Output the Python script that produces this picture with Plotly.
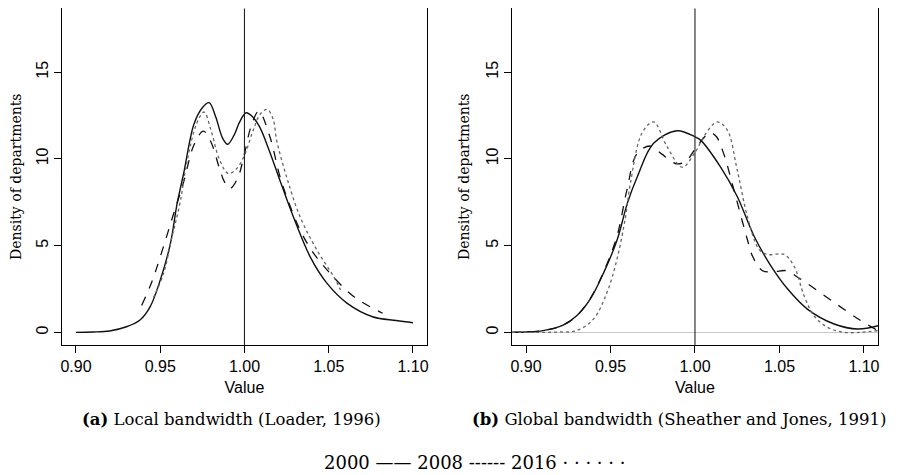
import plotly.graph_objects as go

# (a) local bandwidth (Loader, 1996)
local_2000_x = [0.900, 0.910, 0.920, 0.930, 0.938, 0.944, 0.950, 0.956, 0.960, 0.964, 0.970, 0.975,
                0.979, 0.983, 0.987, 0.990, 0.994, 0.997, 1.001, 1.005, 1.009, 1.015, 1.021, 1.029,
                1.039, 1.049, 1.061, 1.076, 1.090, 1.100]
local_2000_y = [0.0, 0.02, 0.08, 0.32, 0.71, 1.47, 3.0, 5.1, 7.4, 9.2, 12.0, 12.95,
                13.24, 12.4, 11.2, 10.84, 11.4, 12.1, 12.66, 12.4, 11.84, 10.4, 8.77, 6.66,
                4.35, 2.82, 1.67, 0.9, 0.68, 0.55]

local_2008_x = [0.939, 0.945, 0.950, 0.958, 0.964, 0.970, 0.9756, 0.980, 0.985, 0.988, 0.9914,
                0.996, 1.000, 1.004, 1.0085, 1.015, 1.021, 1.027, 1.033, 1.040, 1.049, 1.065, 1.082]
local_2008_y = [1.55, 2.9, 4.35, 6.85, 8.7, 10.8, 11.6, 11.0, 9.5, 8.7, 8.29,
                8.9, 10.3, 11.9, 12.75, 11.3, 9.0, 7.3, 5.9, 4.7, 3.6, 2.05, 1.1]

local_2016_x = [0.946, 0.952, 0.957, 0.9617, 0.9657, 0.9716, 0.976, 0.980, 0.985, 0.9904, 0.995,
                1.000, 1.005, 1.0095, 1.0135, 1.017, 1.0191, 1.025, 1.033, 1.043, 1.053, 1.057]
local_2016_y = [2.0, 3.4, 5.5, 7.43, 9.73, 12.03, 12.7, 11.7, 10.0, 9.15, 9.4,
                10.2, 11.6, 12.6, 12.85, 12.3, 11.07, 8.96, 6.66, 4.74, 3.2, 2.44]

# (b) global bandwidth (Sheather and Jones, 1991)
global_2000_x = [0.8917, 0.900, 0.910, 0.922, 0.930, 0.938, 0.946, 0.954, 0.960, 0.966, 0.9755,
                 0.9894, 1.000, 1.0033, 1.015, 1.025, 1.035, 1.045, 1.055, 1.0665, 1.0824, 1.0963, 1.1083]
global_2000_y = [0.0, 0.02, 0.1, 0.42, 0.95, 1.91, 3.44, 5.35, 7.45, 9.0, 10.9,
                 11.62, 11.27, 11.08, 9.55, 7.83, 5.54, 3.82, 2.48, 1.34, 0.48, 0.19, 0.38]

global_2008_x = [0.8917, 0.910, 0.922, 0.930, 0.938, 0.946, 0.954, 0.9597, 0.9657, 0.9736, 0.980,
                 0.9894, 0.995, 1.0003, 1.0088, 1.0125, 1.017, 1.023, 1.031, 1.034, 1.040, 1.047,
                 1.054, 1.062, 1.0824, 1.0982, 1.1083]
global_2008_y = [0.0, 0.1, 0.42, 0.95, 1.95, 3.5, 5.6, 8.2, 10.3, 10.74, 10.3,
                 9.71, 9.9, 10.6, 11.5, 11.3, 10.3, 8.22, 5.35, 4.4, 3.55, 3.5,
                 3.55, 3.1, 1.72, 0.67, 0.1]

global_2016_x = [0.8917, 0.910, 0.920, 0.930, 0.9399, 0.9479, 0.9538, 0.9588, 0.9618, 0.9687,
                 0.9755, 0.9835, 0.9924, 1.0003, 1.006, 1.0132, 1.0191, 1.025, 1.031, 1.0379,
                 1.0428, 1.0527, 1.0586, 1.0646, 1.0705, 1.0784, 1.0883, 1.098, 1.1083]
global_2016_y = [0.0, 0.0, 0.02, 0.1, 0.76, 2.29, 4.2, 6.6, 8.6, 11.5,
                 12.13, 10.7, 9.52, 10.41, 11.4, 12.13, 11.66, 9.36, 6.69, 4.78,
                 4.49, 4.49, 3.82, 2.1, 0.95, 0.29, 0.0, 0.0, 0.1]

x_ticks = [0.90, 0.95, 1.00, 1.05, 1.10]
y_ticks = [0, 5, 10, 15]
ref_x = 1.0

panels = [
    [(local_2000_x, local_2000_y, "2000"), (local_2008_x, local_2008_y, "2008"),
     (local_2016_x, local_2016_y, "2016")],
    [(global_2000_x, global_2000_y, "2000"), (global_2008_x, global_2008_y, "2008"),
     (global_2016_x, global_2016_y, "2016")],
]
styles = {
    "2000": dict(color="#111111", dash="solid", width=1.4),
    "2008": dict(color="#111111", dash="dash", width=1.3),
    "2016": dict(color="#666666", dash="dot", width=1.3),
}

fig = go.Figure()
for i, series in enumerate(panels):
    xa = "x" if i == 0 else "x2"
    ya = "y" if i == 0 else "y2"
    for xs, ys, name in series:
        fig.add_trace(go.Scatter(
            x=xs, y=ys, mode="lines", name=name, line=styles[name],
            line_shape="spline", xaxis=xa, yaxis=ya, showlegend=False,
        ))
    # reference line at 1.00
    fig.add_shape(type="line", xref=xa, yref=ya + " domain", x0=ref_x, x1=ref_x, y0=0, y1=1,
                  line=dict(color="#222222", width=1.1))

sans = "Liberation Sans, Arial, sans-serif"
serif = "DejaVu Serif, Liberation Serif, serif"

ax_common = dict(
    range=[0.8917, 1.1083], tickvals=x_ticks, tickformat=".2f", automargin=False,
    showgrid=False, zeroline=False, showline=True, mirror=True, linecolor="black", linewidth=1,
    ticks="outside", ticklen=7, tickcolor="black",
    tickfont=dict(family=sans, size=16, color="black"),
    title=dict(text="Value", font=dict(family=sans, size=16, color="black"), standoff=7),
)
ay_common = dict(
    range=[-0.73, 18.67], tickvals=y_ticks, tickangle=-90, automargin=False,
    showgrid=False, showline=True, mirror=True, linecolor="black", linewidth=1,
    ticks="outside", ticklen=7, tickcolor="black",
    tickfont=dict(family=sans, size=16, color="black"),
    title=dict(text="Density of departments", font=dict(family=serif, size=14, color="black"), standoff=10),
    domain=[0.2784, 0.999],
)

fig.update_layout(
    width=892, height=467,
    margin=dict(l=0, r=0, t=0, b=0, autoexpand=False),
    paper_bgcolor="white", plot_bgcolor="white",
    xaxis=dict(ax_common, domain=[0.0605, 0.4697], anchor="y"),
    xaxis2=dict(ax_common, domain=[0.5650, 0.9753], anchor="y2"),
    yaxis=dict(ay_common, anchor="x", zeroline=False),
    yaxis2=dict(ay_common, anchor="x2", zeroline=True, zerolinecolor="#c8c8c8", zerolinewidth=1),
)

fig.add_annotation(text="<b>(a)</b> Local bandwidth (Loader, 1996)", xref="paper", yref="paper",
                   x=0.2511, y=0.1178, xanchor="center", yanchor="middle", showarrow=False,
                   font=dict(family=serif, size=16.5, color="black"))
fig.add_annotation(text="<b>(b)</b> Global bandwidth (Sheather and Jones, 1991)", xref="paper", yref="paper",
                   x=0.7525, y=0.1178, xanchor="center", yanchor="middle", showarrow=False,
                   font=dict(family=serif, size=16.5, color="black"))
fig.add_annotation(text="2000 —— 2008 ------ 2016 · · · · · ·", xref="paper", yref="paper",
                   x=0.5235, y=0.0257, xanchor="center", yanchor="middle", showarrow=False,
                   font=dict(family=serif, size=18, color="black"))

fig.write_html("out.html")
